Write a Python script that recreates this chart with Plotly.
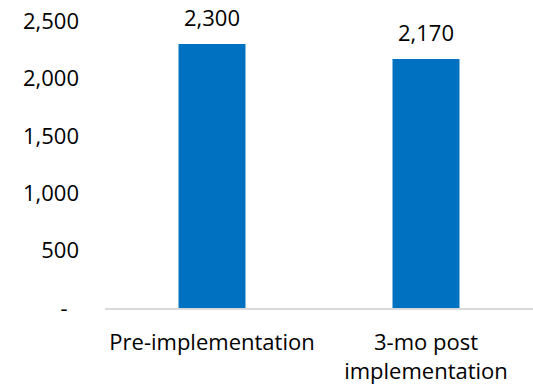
import plotly.graph_objects as go

categories = ["Pre-implementation", "3-mo post<br>implementation"]
values = [2300, 2170]
value_labels = ["2,300", "2,170"]
tick_vals = [0, 500, 1000, 1500, 2000, 2500]
tick_text = ["-\u00a0\u00a0", "500", "1,000", "1,500", "2,000", "2,500"]

FONT = "Open Sans"
FS = 22

fig = go.Figure(go.Bar(
    x=categories, y=values,
    marker=dict(color="#0070C0", line=dict(width=0)),
))
for c, v, t in zip(categories, values, value_labels):
    fig.add_annotation(x=c, y=v, text=t, showarrow=False,
                       yanchor="bottom", yshift=10,
                       font=dict(family=FONT, size=FS, color="black"))
fig.update_layout(
    width=533, height=385,
    margin=dict(l=105, r=0, t=21, b=73),
    paper_bgcolor="white", plot_bgcolor="white",
    bargap=0.687,
    showlegend=False,
    font=dict(family=FONT, size=FS, color="black"),
)
fig.update_xaxes(
    showline=True, linecolor="#D9D9D9", linewidth=1.5,
    showgrid=False, ticks="", ticklabelstandoff=14,
    tickfont=dict(family=FONT, size=FS, color="black"),
)
fig.update_yaxes(
    range=[0, 2500], tickvals=tick_vals, ticktext=tick_text,
    showgrid=False, zeroline=False, showline=False, ticks="",
    ticklabelstandoff=25,
    tickfont=dict(family=FONT, size=FS, color="black"),
)
fig.write_html("out.html")
